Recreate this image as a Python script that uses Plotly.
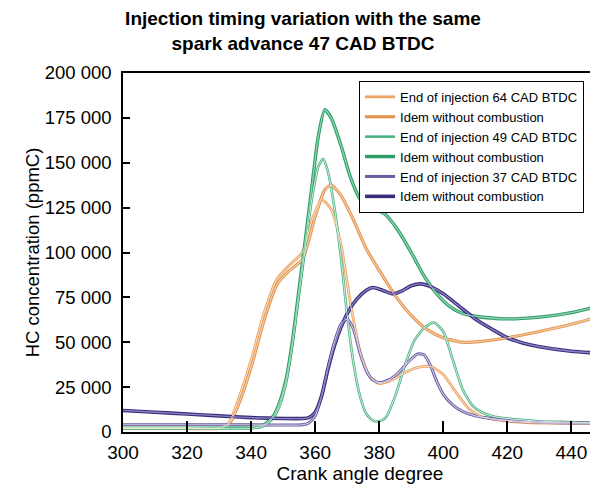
import plotly.graph_objects as go

# ---- data ----
names = ["End of injection 64 CAD BTDC", "Idem without combustion",
         "End of injection 49 CAD BTDC", "Idem without combustion",
         "End of injection 37 CAD BTDC", "Idem without combustion"]

x_o64 = [300, 310, 320, 330, 333, 336, 340, 344, 348, 352, 356, 359, 362, 365, 368, 371, 374, 377, 380, 384, 388, 392, 396, 400, 404, 408, 412, 416, 420, 430, 440, 448]
y_o64 = [2500, 2500, 2500, 2500, 5000, 18000, 40000, 66000, 85000, 93000, 100000, 118000, 129500, 124000, 105000, 72000, 45000, 31000, 27000, 29000, 33000, 36000, 36500, 32000, 22000, 13000, 8500, 7000, 6000, 5000, 5000, 5000]

x_o64i = [300, 320, 330, 333, 336, 340, 344, 348, 352, 356, 360, 363, 365, 368, 372, 376, 380, 385, 390, 395, 400, 406, 412, 420, 430, 440, 448]
y_o64i = [2000, 2000, 2000, 4000, 15000, 36000, 62000, 82000, 90000, 96000, 120000, 135000, 137500, 132000, 118000, 102000, 90000, 76000, 65000, 57000, 52500, 50000, 50500, 52500, 56000, 60000, 64000]

x_g49 = [300, 320, 340, 344, 347, 349, 351, 353, 355, 357, 359, 361, 362.5, 364, 366, 368, 370, 372, 374, 376, 378, 380, 382, 385, 388, 391, 394, 397, 400, 403, 406, 409, 412, 416, 420, 430, 440, 448]
y_g49 = [2000, 2000, 2000, 3500, 8000, 15000, 28000, 50000, 77000, 104000, 130000, 148000, 152000, 145000, 125000, 98000, 65000, 38000, 20000, 10000, 6500, 6000, 8000, 20000, 37000, 51000, 58000, 61000, 56000, 40000, 24000, 15000, 11000, 8500, 7500, 6000, 5500, 5000]

x_g49i = [300, 320, 340, 344, 347, 349, 351, 353, 355, 357, 359, 361, 363, 365, 368, 371, 374, 378, 382, 386, 390, 394, 398, 402, 406, 410, 415, 420, 430, 440, 448]
y_g49i = [3000, 3000, 3000, 4000, 9000, 17000, 30000, 52000, 80000, 108000, 137000, 165000, 179500, 175000, 160000, 142000, 130000, 125000, 121000, 112000, 100000, 87000, 77000, 70000, 66000, 64500, 63500, 63000, 64000, 66500, 70000]

x_p37 = [300, 320, 340, 356, 358, 360, 362, 364, 366, 368, 370, 372, 374, 376, 378, 380, 383, 386, 389, 392, 394, 396, 398, 400, 403, 406, 410, 415, 420, 430, 440, 448]
y_p37 = [4000, 4000, 4000, 4000, 5000, 9000, 20000, 36000, 50000, 60000, 63000, 57000, 44000, 34000, 29000, 27500, 29000, 33000, 39000, 43500, 43000, 37000, 28000, 21000, 15000, 11500, 9000, 7500, 6500, 5500, 5000, 5000]

x_p37i = [300, 310, 320, 330, 340, 350, 356, 358, 360, 362, 364, 366, 368, 370, 373, 376, 378, 381, 384, 387, 390, 393, 396, 400, 405, 410, 415, 420, 425, 430, 440, 448]
y_p37i = [12000, 11000, 10000, 9000, 8000, 7500, 7500, 8000, 11000, 20000, 35000, 48000, 58000, 66000, 74000, 79000, 80500, 79000, 77000, 78500, 81500, 82500, 81000, 77000, 70000, 63000, 57500, 52500, 49500, 47500, 45000, 44000]

y_tickvals = [0, 25000, 50000, 75000, 100000, 125000, 150000, 175000, 200000]
y_ticktext = ["0", "25 000", "50 000", "75 000", "100 000", "125 000", "150 000", "175 000", "200 000"]
x_tickvals = [300, 320, 340, 360, 380, 400, 420, 440]

series = [
    (x_o64, y_o64, "#eaa565", "#fbe4cf", 2.8, 1.0),
    (x_o64i, y_o64i, "#e2954f", "#f6cba5", 3.2, 1.2),
    (x_g49, y_g49, "#4fb283", "#d5f0e2", 2.6, 1.0),
    (x_g49i, y_g49i, "#2e9c66", "#8fd4b1", 3.4, 1.3),
    (x_p37, y_p37, "#6b5ca0", "#d2cae8", 3.0, 1.1),
    (x_p37i, y_p37i, "#3a2d7c", "#8c82c0", 3.6, 1.3),
]

fig = go.Figure()
for (xs, ys, c_out, c_in, w_out, w_in), nm in zip(series, names):
    fig.add_trace(go.Scatter(x=xs, y=ys, mode="lines", name=nm,
                             line=dict(color=c_out, width=w_out, shape="spline", smoothing=0.6)))
for (xs, ys, c_out, c_in, w_out, w_in), nm in zip(series, names):
    fig.add_trace(go.Scatter(x=xs, y=ys, mode="lines", showlegend=False, hoverinfo="skip",
                             line=dict(color=c_in, width=w_in, shape="spline", smoothing=0.6)))

font_family = "Liberation Sans, Arial, sans-serif"
# page body has an 8px margin, so the figure is sized/offset to compensate
fig.update_layout(
    width=590, height=480,
    margin=dict(l=115, r=1, t=65, b=56),
    paper_bgcolor="white", plot_bgcolor="white",
    font=dict(family=font_family, color="black", size=16),
    title=dict(text="<b>Injection timing variation with the same<br>spark advance 47 CAD BTDC</b>",
               x=0.5, xanchor="center", xref="container", y=0.965, yanchor="middle", yref="container",
               font=dict(size=19, family=font_family)),
    showlegend=True,
    legend=dict(x=0.498, y=0.978, xanchor="left", yanchor="top",
                bgcolor="white", bordercolor="black", borderwidth=1,
                font=dict(size=13, family=font_family), tracegroupgap=0,
                itemwidth=30),
    xaxis=dict(range=[300, 448], tickvals=x_tickvals, ticks="inside", ticklen=11,
               tickcolor="black", tickwidth=1.5, showline=True, linecolor="black", linewidth=1.5,
               mirror=True, showgrid=False, zeroline=False, automargin=False,
               ticklabelstandoff=2,
               title=dict(text="Crank angle degree", standoff=1, font=dict(size=19)),
               tickfont=dict(size=19)),
    yaxis=dict(range=[0, 200000], tickvals=y_tickvals, ticktext=y_ticktext, ticks="inside",
               ticklen=7, tickcolor="black", tickwidth=1.5, showline=True, linecolor="black",
               linewidth=1.5, mirror=True, showgrid=False, zeroline=False, automargin=False,
               ticklabelstandoff=6,
               title=dict(text="HC concentration (ppmC)", standoff=0, font=dict(size=18.5)),
               tickfont=dict(size=18.5)),
)

fig.write_html("out.html")
